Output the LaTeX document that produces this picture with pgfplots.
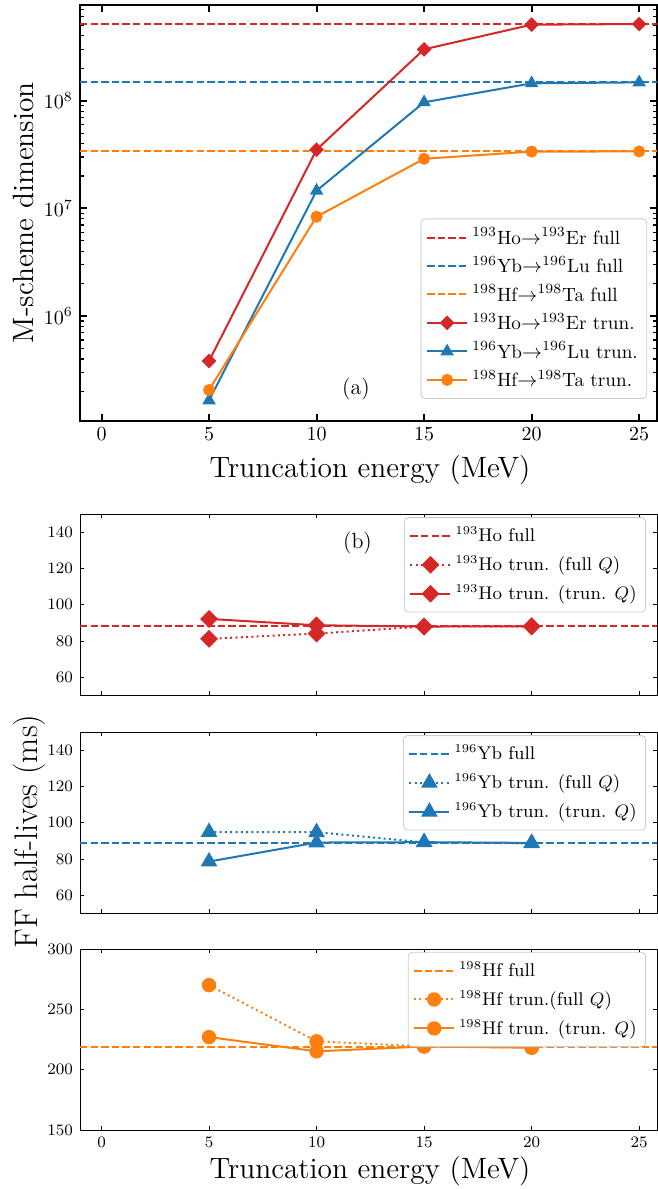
\documentclass[border=0pt]{standalone}
\usepackage{fontspec}
\usepackage{pgfplots}
\pgfplotsset{compat=1.18}
\definecolor{cR}{HTML}{D62728}
\definecolor{cB}{HTML}{1F77B4}
\definecolor{cO}{HTML}{FF7F0E}
\pgfplotsset{
  mydash/.style={dash pattern=on 3.7pt off 1.6pt},
  mydot/.style={dash pattern=on 1pt off 1.65pt},
  legimg/.style={legend image code/.code={\draw[mark repeat=2,mark phase=2,##1] plot coordinates {(0pt,0pt) (10pt,0pt) (20pt,0pt)};}},
  legsty/.style={legend style={draw=black!20, fill=white, rounded corners=2pt, font=\fontsize{9.6}{11}\selectfont, legend cell align=left, row sep=0.6pt, inner sep=2.5pt}},
  botax/.style={scale only axis, width=288.5pt, height=90.5pt, xmin=-1, xmax=25.83,
    xtick={0,5,10,15,20,25}, tick align=inside, axis line style={line width=0.5pt},
    major tick style={line width=0.5pt, black}, major tick length=2pt,
    ticklabel style={font=\fontsize{8}{9}\selectfont}, legsty, legimg,
    legend style={at={(0.981,0.984)}, anchor=north east, font=\fontsize{9.2}{11}\selectfont, row sep=1.3pt}},
}
\begin{document}
\begin{tikzpicture}
\path[use as bounding box] (0,0) rectangle (329pt,-594.5pt);
% ---------- (a) ----------
\begin{axis}[at={(40pt,-2.5pt)}, anchor=north west, scale only axis,
  width=288.5pt, height=208pt, xmin=-1, xmax=25.83,
  ymode=log, ymin=1.062e5, ymax=7.74e8,
  xtick={0,5,10,15,20,25}, ytick={1e6,1e7,1e8},
  minor ytick={2e5,3e5,4e5,5e5,6e5,7e5,8e5,9e5,2e6,3e6,4e6,5e6,6e6,7e6,8e6,9e6,2e7,3e7,4e7,5e7,6e7,7e7,8e7,9e7,2e8,3e8,4e8,5e8,6e8,7e8},
  tick align=inside, axis line style={line width=1pt},
  major tick style={line width=1pt, black}, minor tick style={line width=0.6pt, black},
  major tick length=3.5pt, minor tick length=2pt,
  ticklabel style={font=\fontsize{10}{12}\selectfont},
  legsty, legimg,
  legend style={at={(0.983,0.053)}, anchor=south east},
]
\addplot[cR, line width=1pt, mydash] coordinates {(-1,5.19e8) (25.83,5.19e8)};
\addlegendentry{$^{193}$Ho$\rightarrow^{193}$Er full}
\addplot[cB, line width=1pt, mydash] coordinates {(-1,1.49e8) (25.83,1.49e8)};
\addlegendentry{$^{196}$Yb$\rightarrow^{196}$Lu full}
\addplot[cO, line width=1pt, mydash] coordinates {(-1,3.39e7) (25.83,3.39e7)};
\addlegendentry{$^{198}$Hf$\rightarrow^{198}$Ta full}
\addplot[cR, line width=1pt, mark=square*, mark size=2.1pt, mark options={rotate=45, solid}] coordinates {(5,3.83e5) (10,3.51e7) (15,3.0e8) (20,5.08e8) (25,5.15e8)};
\addlegendentry{$^{193}$Ho$\rightarrow^{193}$Er trun.}
\addplot[cB, line width=1pt, mark=triangle*, mark size=2.9pt, mark options={solid}] coordinates {(5,1.65e5) (10,1.46e7) (15,9.67e7) (20,1.45e8) (25,1.48e8)};
\addlegendentry{$^{196}$Yb$\rightarrow^{196}$Lu trun.}
\addplot[cO, line width=1pt, mark=*, mark size=2.5pt, mark options={solid}] coordinates {(5,2.06e5) (10,8.37e6) (15,2.89e7) (20,3.37e7) (25,3.38e7)};
\addlegendentry{$^{198}$Hf$\rightarrow^{198}$Ta trun.}
\end{axis}
\node[anchor=base, font=\fontsize{11}{13}\selectfont] at (178pt,-197pt) {(a)};
\node[anchor=base, font=\fontsize{14.7}{17}\selectfont] at (185pt,-238.5pt) {Truncation energy (MeV)};
\node[anchor=base, rotate=90, font=\fontsize{14.7}{17}\selectfont] at (16.5pt,-106.4pt) {M-scheme dimension};
% ---------- (b) top ----------
\begin{axis}[at={(40pt,-257.15pt)}, anchor=north west, botax, ymin=50, ymax=150,
  ytick={60,80,100,120,140}, xticklabels={}]
\addplot[cR, line width=1pt, mydash] coordinates {(-1,88.1) (25.83,88.1)};
\addlegendentry{$^{193}$Ho full}
\addplot[cR, line width=1pt, mydot, mark=square*, mark size=2.65pt, mark options={rotate=45, solid}] coordinates {(5,81.2) (10,84.1) (15,88.0) (20,88.1)};
\addlegendentry{$^{193}$Ho trun. (full $Q$)}
\addplot[cR, line width=1pt, mark=square*, mark size=2.65pt, mark options={rotate=45, solid}] coordinates {(5,92.2) (10,88.7) (15,88.0) (20,88.1)};
\addlegendentry{$^{193}$Ho trun. (trun. $Q$)}
\end{axis}
\node[anchor=base, font=\fontsize{11}{13}\selectfont] at (178.75pt,-274.2pt) {(b)};
% ---------- (b) middle ----------
\begin{axis}[at={(40pt,-366.15pt)}, anchor=north west, botax, ymin=50, ymax=150,
  ytick={60,80,100,120,140}, xticklabels={}]
\addplot[cB, line width=1pt, mydash] coordinates {(-1,88.8) (25.83,88.8)};
\addlegendentry{$^{196}$Yb full}
\addplot[cB, line width=1pt, mydot, mark=triangle*, mark size=3.8pt, mark options={solid}] coordinates {(5,94.9) (10,94.8) (15,89.2) (20,88.6)};
\addlegendentry{$^{196}$Yb trun. (full $Q$)}
\addplot[cB, line width=1pt, mark=triangle*, mark size=3.8pt, mark options={solid}] coordinates {(5,78.6) (10,89.1) (15,89.3) (20,88.9)};
\addlegendentry{$^{196}$Yb trun. (trun. $Q$)}
\end{axis}
% ---------- (b) bottom ----------
\begin{axis}[at={(40pt,-474.5pt)}, anchor=north west, botax, ymin=150, ymax=300,
  ytick={150,200,250,300}]
\addplot[cO, line width=1pt, mydash] coordinates {(-1,218.5) (25.83,218.5)};
\addlegendentry{$^{198}$Hf full}
\addplot[cO, line width=1pt, mydot, mark=*, mark size=3.1pt, mark options={solid}] coordinates {(5,270.1) (10,223.5) (15,219.3) (20,218.3)};
\addlegendentry{$^{198}$Hf trun.(full $Q$)}
\addplot[cO, line width=1pt, mark=*, mark size=3.1pt, mark options={solid}] coordinates {(5,227.0) (10,215.2) (15,219.2) (20,218.2)};
\addlegendentry{$^{198}$Hf trun. (trun. $Q$)}
\end{axis}
\node[anchor=base, font=\fontsize{14.7}{17}\selectfont] at (185pt,-589.3pt) {Truncation energy (MeV)};
\node[anchor=base, rotate=90, font=\fontsize{16.3}{19}\selectfont] at (18.5pt,-415.75pt) {FF half-lives (ms)};
\end{tikzpicture}
\end{document}
